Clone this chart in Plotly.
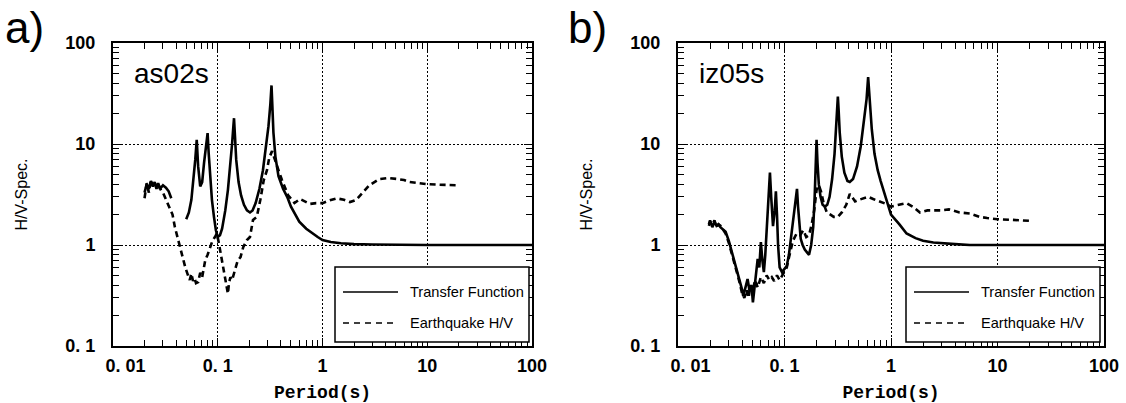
import plotly.graph_objects as go

W, H = 1126, 403

# ---------------- data ----------------
# Panel a) as02s
a_tf_T = [0.020, 0.021, 0.022, 0.023, 0.024, 0.025, 0.026, 0.027, 0.028, 0.030, 0.032, 0.034, 0.036, None,
          0.050, 0.053, 0.056, 0.059, 0.061, 0.063, 0.065, 0.068, 0.071, 0.074, 0.077, 0.080, 0.082, 0.085,
          0.088, 0.092, 0.096, 0.100, 0.105, 0.110, 0.118, 0.125, 0.132, 0.137, 0.141, 0.143, 0.146, 0.150,
          0.158, 0.167, 0.178, 0.190, 0.203, 0.215, 0.230, 0.250, 0.270, 0.290, 0.305, 0.318, 0.326, 0.332,
          0.340, 0.355, 0.380, 0.420, 0.460, 0.500, 0.550, 0.600, 0.700, 0.800, 0.900, 1.0, 1.2, 1.5, 2.0,
          3.0, 5.0, 10.0, 20.0, 50.0, 100.0]
a_tf_V = [3.3, 4.0, 3.6, 4.3, 3.8, 4.2, 3.7, 4.1, 3.6, 3.9, 3.7, 3.4, 2.9, None,
          1.8, 2.1, 2.8, 4.5, 7.0, 11.0, 6.0, 3.8, 4.2, 6.5, 10.0, 12.8, 8.0, 4.5,
          2.8, 1.9, 1.4, 1.2, 1.25, 1.45, 2.2, 3.5, 6.0, 10.0, 15.0, 18.0, 12.0, 7.0,
          4.2, 3.1, 2.5, 2.2, 2.1, 2.2, 2.6, 3.6, 5.5, 9.5, 15.0, 25.0, 38.0, 24.0,
          13.0, 7.5, 4.8, 3.6, 3.0, 2.4, 2.0, 1.7, 1.45, 1.3, 1.2, 1.12, 1.07, 1.04, 1.02,
          1.01, 1.0, 1.0, 1.0, 1.0, 1.0]

a_eq_T = [0.020, 0.0205, 0.021, 0.022, 0.023, 0.024, 0.025, 0.026, 0.027, 0.028, 0.029, 0.030, 0.033, 0.035,
          0.037, 0.039, 0.042, 0.044, 0.046, 0.049, 0.052, 0.054, 0.056, 0.058, 0.060, 0.062, 0.065, 0.068,
          0.071, 0.076, 0.080, 0.084, 0.089, 0.094, 0.098, 0.102, 0.106, 0.110, 0.114, 0.118, 0.122, 0.125,
          0.128, 0.132, 0.137, 0.145, 0.155, 0.165, 0.175, 0.190, 0.203, 0.217, 0.236, 0.255, 0.275, 0.295,
          0.310, 0.330, 0.350, 0.380, 0.410, 0.440, 0.470, 0.510, 0.540, 0.610, 0.680, 0.760, 0.870, 1.0,
          1.15, 1.37, 1.6, 1.83, 2.1, 2.4, 2.8, 3.5, 4.2, 5.2, 6.0, 6.8, 8.0, 10.0, 13.0, 16.0, 20.0]
a_eq_V = [2.9, 3.5, 4.1, 3.3, 4.4, 3.9, 4.2, 3.6, 4.0, 3.7, 3.4, 3.3, 2.6, 2.3,
          2.0, 1.5, 1.1, 0.9, 0.8, 0.6, 0.5, 0.45, 0.52, 0.44, 0.47, 0.42, 0.43, 0.53,
          0.48, 0.71, 0.8, 0.95, 1.1, 1.2, 1.3, 1.07, 0.85, 0.66, 0.55, 0.45, 0.38, 0.33,
          0.42, 0.48, 0.45, 0.55, 0.7, 0.76, 0.95, 1.12, 1.2, 1.77, 1.9, 2.8, 4.4, 5.5,
          7.3, 8.5, 7.0, 5.5, 4.4, 3.7, 3.1, 2.8, 2.6, 2.85, 2.7, 2.55, 2.6, 2.6,
          2.75, 2.9, 2.8, 2.66, 2.8, 3.3, 3.9, 4.5, 4.6, 4.5, 4.4, 4.2, 4.1, 4.0, 3.95, 3.9, 3.9]

# Panel b) iz05s
b_tf_T = [0.0195, 0.020, 0.021, 0.022, 0.023, 0.024, 0.025, 0.026, 0.027, 0.028, 0.030, 0.032, 0.034, 0.036,
          0.038, 0.040, 0.041, 0.043, 0.045, 0.047, 0.049, 0.0505, 0.052, 0.054, 0.056, 0.058, 0.060, 0.062,
          0.064, 0.066, 0.068, 0.070, 0.072, 0.073, 0.075, 0.078, 0.081, 0.083, 0.085, 0.087, 0.090, 0.0947,
          0.100, 0.105, 0.110, 0.114, 0.118, 0.124, 0.128, 0.131, 0.134, 0.138, 0.142, 0.148, 0.155, 0.162,
          0.170, 0.178, 0.186, 0.192, 0.196, 0.200, 0.204, 0.210, 0.218, 0.228, 0.240, 0.252, 0.265, 0.280,
          0.295, 0.305, 0.312, 0.317, 0.322, 0.330, 0.345, 0.365, 0.390, 0.410, 0.440, 0.480, 0.520, 0.560,
          0.590, 0.610, 0.630, 0.660, 0.700, 0.750, 0.800, 0.900, 1.0, 1.2, 1.4, 1.7, 2.0, 2.5, 3.0, 4.0,
          5.5, 8.0, 15.0, 30.0, 100.0]
b_tf_V = [1.6, 1.75, 1.5, 1.7, 1.55, 1.6, 1.5, 1.45, 1.4, 1.35, 1.1, 0.85, 0.7, 0.55,
          0.45, 0.36, 0.31, 0.38, 0.46, 0.35, 0.4, 0.27, 0.35, 0.5, 0.73, 0.6, 1.07, 0.7,
          0.54, 0.8, 1.5, 2.8, 4.5, 5.2, 3.0, 1.54, 2.2, 3.4, 2.0, 1.0, 0.6, 0.54,
          0.58, 0.62, 0.8, 1.1, 1.5, 2.5, 3.2, 3.6, 2.4, 1.5, 1.15, 1.0, 0.9, 0.85,
          0.8, 1.0, 1.5, 3.0, 5.2, 11.0, 6.5, 4.0, 3.0, 2.5, 2.4, 2.5, 3.0, 4.5,
          8.0, 14.0, 22.0, 29.5, 22.0, 13.0, 7.5, 5.2, 4.3, 4.2, 4.5, 6.0, 9.5, 17.0,
          28.0, 46.0, 25.0, 14.0, 8.0, 5.5, 4.3, 2.9, 2.0, 1.6, 1.3, 1.17, 1.1, 1.06, 1.04, 1.02,
          1.0, 1.0, 1.0, 1.0, 1.0]

b_eq_T = [0.0195, 0.020, 0.021, 0.022, 0.023, 0.024, 0.025, 0.026, 0.027, 0.028, 0.030, 0.032, 0.034, 0.036,
          0.038, 0.040, 0.042, 0.044, 0.046, 0.048, 0.050, 0.053, 0.056, 0.060, 0.064, 0.068, 0.072, 0.076,
          0.080, 0.085, 0.090, 0.095, 0.100, 0.105, 0.110, 0.115, 0.120, 0.130, 0.140, 0.150, 0.160, 0.170,
          0.180, 0.190, 0.200, 0.210, 0.220, 0.235, 0.250, 0.270, 0.290, 0.317, 0.345, 0.380, 0.410, 0.430,
          0.460, 0.500, 0.550, 0.610, 0.680, 0.790, 0.900, 1.0, 1.2, 1.4, 1.6, 1.87, 2.2, 2.9, 3.5, 4.4,
          5.5, 6.8, 8.0, 10.0, 13.0, 16.0, 21.0]
b_eq_V = [1.55, 1.7, 1.6, 1.75, 1.5, 1.6, 1.55, 1.45, 1.4, 1.3, 1.05, 0.8, 0.65, 0.52,
          0.42, 0.33, 0.3, 0.36, 0.3, 0.4, 0.35, 0.45, 0.38, 0.48, 0.42, 0.5, 0.45, 0.48,
          0.44, 0.5, 0.45, 0.5, 0.55, 0.6, 0.75, 0.9, 1.1, 1.3, 1.25, 1.4, 1.2, 1.25,
          1.6, 2.2, 3.5, 3.9, 3.4, 2.5, 2.1, 2.0, 1.9, 1.9, 2.1, 2.5, 3.2, 3.0,
          2.7, 2.8, 2.9, 3.0, 2.85, 2.7, 2.55, 2.4, 2.5, 2.6, 2.4, 2.1, 2.2, 2.2, 2.25, 2.1,
          2.05, 1.9, 1.85, 1.8, 1.78, 1.75, 1.73]

x_tickvals = [0.01, 0.1, 1, 10, 100]
x_ticktext = ["\u00a0\u00a0\u00a0\u00a0\u00a00. 01", "0. 1", "1", "10", "100"]
y_tickvals = [0.1, 1, 10, 100]
y_ticktext = ["0. 1", "1", "10", "100"]
minor_vals = [m * 10 ** e for e in range(-2, 2) for m in range(2, 10)]

panel_names = ["as02s", "iz05s"]
panel_letters = ["a)", "b)"]
legend_names = ["Transfer Function", "Earthquake H/V"]

# ---------------- layout helpers ----------------
def px(x):
    return x / W

def py(y):
    return 1 - y / H

x_domains = [[px(113), px(532)], [px(678), px(1104)]]
y_domain = [py(346), py(43)]

SOLID_W = 2.6
DASH = "6px,4px"

fig = go.Figure()

series = [(a_tf_T, a_tf_V, a_eq_T, a_eq_V), (b_tf_T, b_tf_V, b_eq_T, b_eq_V)]
for i, (tT, tV, eT, eV) in enumerate(series):
    xa = "x" if i == 0 else "x2"
    ya = "y" if i == 0 else "y2"
    fig.add_trace(go.Scatter(x=eT, y=eV, mode="lines", xaxis=xa, yaxis=ya, name=legend_names[1],
                             line=dict(color="black", width=SOLID_W, dash=DASH), showlegend=False))
    fig.add_trace(go.Scatter(x=tT, y=tV, mode="lines", xaxis=xa, yaxis=ya, name=legend_names[0],
                             line=dict(color="black", width=SOLID_W), showlegend=False,
                             connectgaps=False))

tick_font = dict(family="Liberation Sans, Arial", size=18, color="black", weight="bold")

common = dict(
    type="log", showline=True, linewidth=2, linecolor="black", mirror="ticks",
    ticks="inside", ticklen=8, tickwidth=1, tickcolor="black",
    showgrid=True, gridcolor="black", gridwidth=1, griddash="2px,2px",
    zeroline=False, tickfont=tick_font, tickmode="array", automargin=False,
    minor=dict(tickvals=minor_vals, ticks="inside", ticklen=6, tickwidth=1,
               tickcolor="black", showgrid=False),
)

for i in range(2):
    sfx = "" if i == 0 else "2"
    fig.layout["xaxis" + sfx] = dict(
        common, domain=x_domains[i], range=[-2, 2], anchor="y" + sfx,
        tickvals=x_tickvals, ticktext=x_ticktext, ticklabelstandoff=2,
        title=dict(text="Period(s)", standoff=16,
                   font=dict(family="Liberation Mono", size=18, color="black", weight="bold")),
    )
    fig.layout["yaxis" + sfx] = dict(
        common, domain=y_domain, range=[-1, 2], anchor="x" + sfx,
        tickvals=y_tickvals, ticktext=y_ticktext, ticklabelstandoff=12,
        title=dict(text="H/V-Spec.", standoff=34,
                   font=dict(family="Liberation Sans, Arial", size=16, color="black")),
    )

annotations = []
shapes = []
for i in range(2):
    x0 = [113, 678][i]
    annotations.append(dict(text=panel_letters[i], x=px([3, 566][i]), y=py(1), xref="paper", yref="paper",
                            xanchor="left", yanchor="top", showarrow=False,
                            font=dict(family="Liberation Sans, Arial", size=44, color="black")))
    annotations.append(dict(text=panel_names[i], x=px(x0 + 19), y=py(56), xref="paper", yref="paper",
                            xanchor="left", yanchor="top", showarrow=False,
                            font=dict(family="Liberation Sans, Arial", size=28, color="black")))
    # legend box
    lx0 = [335, 906][i]
    lx1 = lx0 + 194
    shapes.append(dict(type="rect", xref="paper", yref="paper", x0=px(lx0), x1=px(lx1),
                       y0=py(342), y1=py(267), line=dict(color="black", width=1.5),
                       fillcolor="white", layer="above"))
    for j, (yy, dash) in enumerate([(292, "solid"), (323, "6px,5px")]):
        shapes.append(dict(type="line", xref="paper", yref="paper", x0=px(lx0 + 8), x1=px(lx0 + 63),
                           y0=py(yy), y1=py(yy), line=dict(color="black", width=1.5, dash=dash),
                           layer="above"))
        annotations.append(dict(text=legend_names[j], x=px(lx0 + 73), y=py(yy), xref="paper", yref="paper",
                                xanchor="left", yanchor="middle", showarrow=False,
                                font=dict(family="Liberation Sans, Arial", size=14.6, color="black")))

fig.update_layout(
    width=W, height=H, margin=dict(l=0, r=0, t=0, b=0),
    paper_bgcolor="white", plot_bgcolor="white",
    showlegend=False, annotations=annotations, shapes=shapes,
)

fig.write_html("out.html", config={"displayModeBar": False},
               post_script="document.body.style.margin='0';")
